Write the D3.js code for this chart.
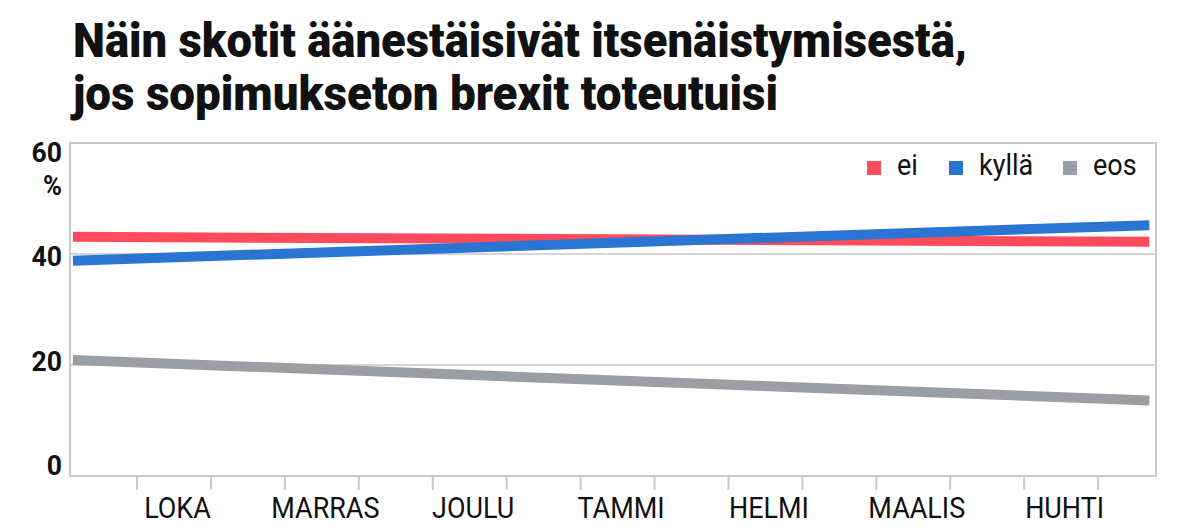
<!DOCTYPE html>
<html>
<head>
<meta charset="utf-8">
<script src="https://cdn.jsdelivr.net/npm/d3@7"></script>
<style>
  html, body { margin: 0; padding: 0; background: #fff; }
  svg { display: block; font-family: Roboto, "Noto Sans", sans-serif; }
</style>
</head>
<body>
<div id="chart"></div>
<script>
// data
const titleLines = ['Näin skotit äänestäisivät itsenäistymisestä,', 'jos sopimukseton brexit toteutuisi'];
const months = ['LOKA', 'MARRAS', 'JOULU', 'TAMMI', 'HELMI', 'MAALIS', 'HUHTI'];
const series = ['ei', 'kyllä', 'eos'];
const periodX = [-0.68, 6.6]; // start / end of the trend, in months (0 = LOKA)
const eiValues = [43.1, 42.2];
const kyllaValues = [38.8, 45.2];
const eosValues = [20.9, 13.6];
const yTicks = [0, 20, 40, 60];

const colors = ['#ff4b5c', '#2a75d2', '#9a9ea5'];
const values = [eiValues, kyllaValues, eosValues];

const width = 1199;
const height = 532;
const margin = { top: 143, right: 43, bottom: 56, left: 70 };
const innerW = width - margin.left - margin.right;
const innerH = height - margin.top - margin.bottom;
const axisColor = '#c9c9c9';
const SQ = 0.93; // fake a condensed face

const svg = d3.select('#chart')
  .append('svg')
  .attr('width', width)
  .attr('height', height);

// condensed text helper
const cText = (parent, x, y, txt, anchor, k) => parent
  .append('g')
  .attr('transform', `translate(${x},${y}) scale(${k || SQ},1)`)
  .append('text')
  .attr('text-anchor', anchor || 'start')
  .text(txt);

// title
svg.selectAll('text.title')
  .data(titleLines)
  .enter()
  .append('text')
  .attr('class', 'title')
  .attr('x', 73)
  .attr('y', (d, i) => 57 + i * 53)
  .attr('textLength', (d, i) => (i === 0 ? 894 : 705))
  .attr('lengthAdjust', 'spacingAndGlyphs')
  .style('font-size', '48px')
  .style('font-weight', '900')
  .attr('fill', '#111')
  .text(d => d);

const x = d3.scaleLinear()
  .domain([-0.7, 6.645])
  .range([0, innerW]);

const y = d3.scaleLinear()
  .domain([0, 60])
  .range([innerH, 0]);

// label positions sit a bit off the grid lines in the original
const yLab = d3.scaleLinear()
  .domain([0, 60])
  .range([innerH - 11, 9]);

const g = svg.append('g')
  .attr('transform', `translate(${margin.left},${margin.top})`);

// grid
g.selectAll('line.grid')
  .data(yTicks.filter(d => d > 0 && d < 60))
  .enter()
  .append('line')
  .attr('class', 'grid')
  .attr('x1', 0)
  .attr('x2', innerW)
  .attr('y1', d => y(d))
  .attr('y2', d => y(d))
  .attr('stroke', axisColor)
  .attr('stroke-width', 1.5);

// x ticks, two per month
const tickVals = [];
months.forEach((m, i) => { tickVals.push(i - 0.25, i + 0.25); });

const xG = g.append('g')
  .attr('transform', `translate(0,${innerH})`)
  .call(d3.axisBottom(x).tickValues(tickVals).tickSize(14).tickFormat(''));
xG.select('.domain').remove();
xG.selectAll('line').attr('stroke', axisColor).attr('stroke-width', 2);

months.forEach((m, i) => {
  cText(g, x(i) + 4, innerH + 42, m, 'middle')
    .style('font-size', '29px')
    .attr('fill', '#111');
});

// y labels
yTicks.forEach(v => {
  cText(g, -8, yLab(v) + 10, v, 'end', 0.95)
    .style('font-size', '28px')
    .style('font-weight', '700')
    .attr('fill', '#111');
});
cText(g, -8, 52, '%', 'end', 0.95)
  .style('font-size', '27px')
  .style('font-weight', '700')
  .attr('fill', '#111');

// frame
g.append('rect')
  .attr('x', 0)
  .attr('y', 0)
  .attr('width', innerW)
  .attr('height', innerH)
  .attr('fill', 'none')
  .attr('stroke', axisColor)
  .attr('stroke-width', 2);

// lines
const line = d3.line()
  .x((d, i) => x(periodX[i]))
  .y(d => y(d));

g.selectAll('path.series')
  .data(values)
  .enter()
  .append('path')
  .attr('class', 'series')
  .attr('d', d => line(d))
  .attr('fill', 'none')
  .attr('stroke', (d, i) => colors[i])
  .attr('stroke-width', 10);

// legend
const legendX = [867, 949, 1063];
series.forEach((s, i) => {
  svg.append('rect')
    .attr('x', legendX[i])
    .attr('y', 161)
    .attr('width', 14)
    .attr('height', 14)
    .attr('fill', colors[i]);
  cText(svg, legendX[i] + 30, 175, s, 'start')
    .style('font-size', '29px')
    .attr('fill', '#111');
});
</script>
</body>
</html>
